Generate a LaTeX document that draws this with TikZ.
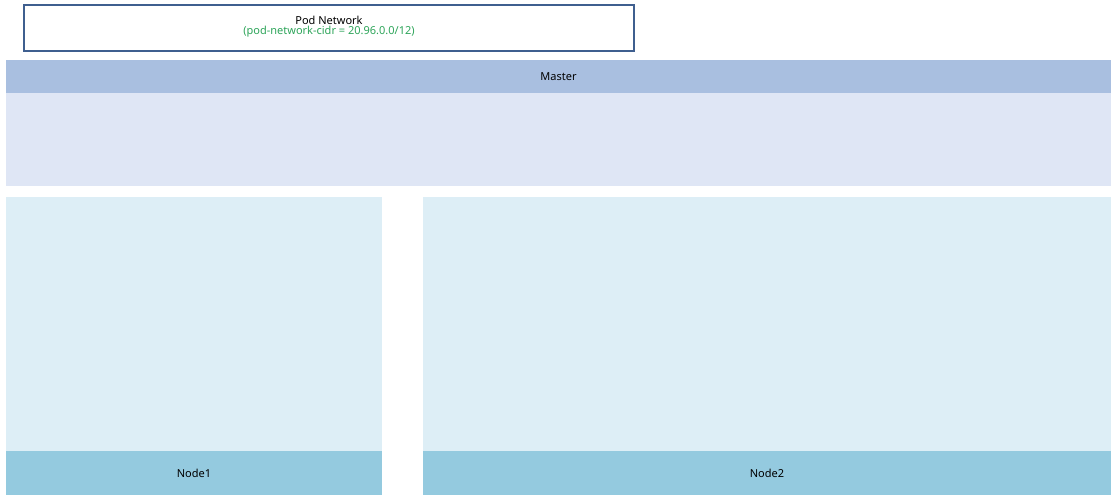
\documentclass[tikz,border=0pt]{standalone}
\usepackage{fontspec}
\setmainfont{Noto Sans}
\usetikzlibrary{positioning}
\definecolor{netblue}{HTML}{3F5F8F}
\definecolor{cidrgreen}{HTML}{2EA55A}
\definecolor{masterhead}{HTML}{A9BFE0}
\definecolor{masterbody}{HTML}{DFE6F5}
\definecolor{nodehead}{HTML}{94CADF}
\definecolor{nodebody}{HTML}{DDEEF6}
\begin{document}
\begin{tikzpicture}
[x=1pt,y=-1pt,
head/.style={font=\bfseries\fontsize{11}{13}\selectfont}]
\useasboundingbox[fill=white] (0,0) rectangle (1117,501);
% pod network
\draw[netblue,line width=1.5pt,fill=white] (24,5) rectangle (634,51);
\node[head,inner sep=1pt] (pod) at (329,20) {Pod Network};
\node[text=cidrgreen,font=\fontsize{11}{13}\selectfont,inner sep=1pt,below=0pt of pod] (cidr) {(pod-network-cidr = 20.96.0.0/12)};
% master
\fill[masterbody] (6,93) rectangle (1111,186);
\fill[masterhead] (6,60) rectangle (1111,93);
\node[head] (master) at (558.5,76.5) {Master};
% nodes
\fill[nodebody] (6,197) rectangle (382,451);
\fill[nodehead] (6,451) rectangle (382,495);
\node[head] (node1) at (194,473) {Node1};
\fill[nodebody] (423,197) rectangle (1111,451);
\fill[nodehead] (423,451) rectangle (1111,495);
\node[head] (node2) at (767,473) {Node2};
\end{tikzpicture}
\end{document}
